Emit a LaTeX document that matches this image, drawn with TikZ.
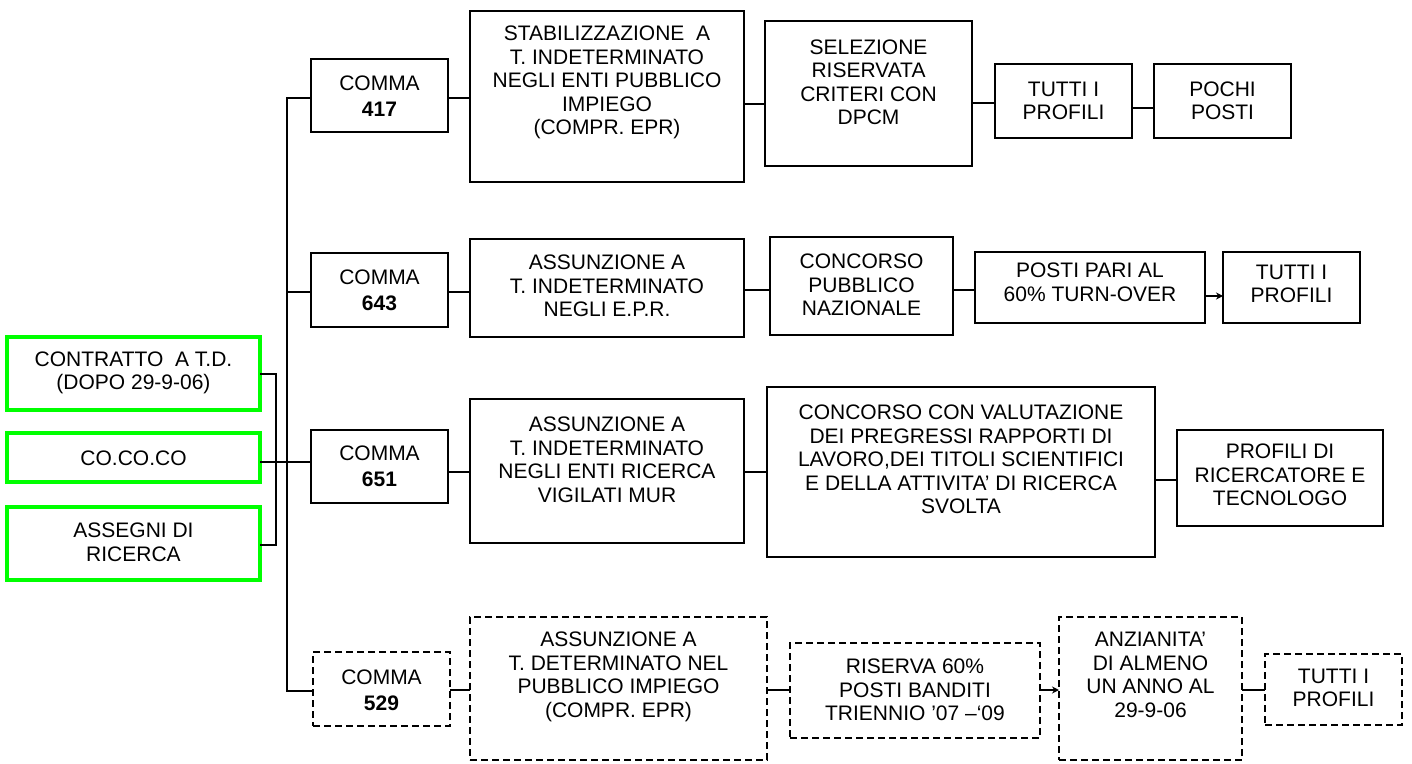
\documentclass[tikz,border=0pt]{standalone}
\usepackage{fontspec}
\setmainfont{Liberation Sans}
\usetikzlibrary{arrows.meta}
\definecolor{brgreen}{RGB}{0,255,0}
\tikzset{
 solidbox/.style={draw=black, line width=2pt, inner sep=0pt, outer sep=0pt},
 dashbox/.style={solidbox, dash pattern=on 7pt off 4pt},
 greenbox/.style={draw=brgreen, line width=4pt, inner sep=0pt, outer sep=0pt},
 txt/.style={align=center, inner sep=0pt, font=\fontsize{21}{23.5}\selectfont},
 conn/.style={draw=black, line width=2pt},
 arr/.style={conn, -{Stealth[length=7pt,width=7pt]}},
}
% style, name, x1, y1, x2, y2, text centre y, text
\newcommand\mybox[8]{%
 \node[#1, minimum width={#5-#3}, minimum height={#6-#4}, anchor=north west] (#2) at (#3,#4) {};
 \node[txt] (#2t) at ({(#3+#5)/2},#7) {#8};
}
\begin{document}
\begin{tikzpicture}[x=1pt,y=-1pt]
\useasboundingbox (0,0) rectangle (1412,763);
% left green boxes
\mybox{greenbox}{G1}{7}{337}{260}{410}{373}{CONTRATTO\ \ A T.D.\\(DOPO 29-9-06)}
\mybox{greenbox}{G2}{7}{433}{260}{482}{458}{CO.CO.CO}
\mybox{greenbox}{G3}{7}{507}{260}{580}{542.5}{ASSEGNI DI\\RICERCA}
% comma boxes
\mybox{solidbox}{C417}{311}{59}{448}{132}{96}{COMMA\\[2.5pt]\textbf{417}}
\mybox{solidbox}{C643}{311}{253}{448}{327}{290}{COMMA\\[2.5pt]\textbf{643}}
\mybox{solidbox}{C651}{311}{430}{448}{503}{466}{COMMA\\[2.5pt]\textbf{651}}
\mybox{dashbox}{C529}{313}{652}{450}{726}{690}{COMMA\\[2.5pt]\textbf{529}}
% row 1
\mybox{solidbox}{A1}{470}{11}{744}{182}{82.5}{STABILIZZAZIONE\ \ A\\T. INDETERMINATO\\NEGLI ENTI PUBBLICO\\IMPIEGO\\(COMPR. EPR)}
\mybox{solidbox}{B1}{765}{21}{972}{166}{82.5}{SELEZIONE\\RISERVATA\\CRITERI CON\\DPCM}
\mybox{solidbox}{T1}{995}{64}{1132}{138}{101}{TUTTI I\\PROFILI}
\mybox{solidbox}{P1}{1154}{64}{1291}{138}{101}{POCHI\\POSTI}
% row 2
\mybox{solidbox}{A2}{470}{239}{744}{337}{286}{ASSUNZIONE A\\T. INDETERMINATO\\NEGLI E.P.R.}
\mybox{solidbox}{B2}{770}{237}{953}{335}{285}{CONCORSO\\PUBBLICO\\NAZIONALE}
\mybox{solidbox}{D2}{975}{252}{1205}{323}{282.5}{POSTI PARI AL\\60\% TURN-OVER}
\mybox{solidbox}{T2}{1223}{252}{1360}{323}{284}{TUTTI I\\PROFILI}
% row 3
\mybox{solidbox}{A3}{470}{399}{744}{543}{460}{ASSUNZIONE A\\T. INDETERMINATO\\NEGLI ENTI RICERCA\\VIGILATI MUR}
\mybox{solidbox}{B3}{767}{387}{1155}{557}{459.5}{CONCORSO CON VALUTAZIONE\\DEI PREGRESSI RAPPORTI DI\\LAVORO,DEI TITOLI SCIENTIFICI\\E DELLA ATTIVITA’ DI RICERCA\\SVOLTA}
\mybox{solidbox}{P3}{1177}{430}{1383}{526}{475}{PROFILI DI\\RICERCATORE E\\TECNOLOGO}
% row 4
\mybox{dashbox}{A4}{470}{617}{767}{760}{677}{ASSUNZIONE A\\T. DETERMINATO NEL\\PUBBLICO IMPIEGO\\(COMPR. EPR)}
\mybox{dashbox}{R4}{790}{643}{1040}{738}{690}{RISERVA 60\%\\POSTI BANDITI\\TRIENNIO ’07 –‘09}
\mybox{dashbox}{N4}{1059}{617}{1242}{760}{675}{ANZIANITA’\\DI ALMENO\\UN ANNO AL\\29-9-06}
\mybox{dashbox}{T4}{1265}{654}{1402}{725}{688}{TUTTI I\\PROFILI}
% helper coordinates
\coordinate (sp) at (287,98);
\coordinate (spb) at (287,691);
\coordinate (bra) at (276,374);
\coordinate (brb) at (276,545);
\coordinate (r1a) at (0,98);
\coordinate (r1b) at (0,104);
\coordinate (r1c) at (0,103);
\coordinate (r1d) at (0,108);
\coordinate (r2a) at (0,292);
\coordinate (r2b) at (0,290);
\coordinate (r2c) at (0,296);
\coordinate (r3a) at (0,462);
\coordinate (r3b) at (0,472);
\coordinate (r3c) at (0,480);
\coordinate (r4a) at (0,690);
% spine and bracket
\draw[conn] (C417.west |- sp) -- (sp) -- (spb) -- (C529.west |- spb);
\draw[conn] (sp |- r2a) -- (C643.west |- r2a);
\draw[conn] (G1.east |- bra) -- (bra) -- (brb) -- (G3.east |- brb);
\draw[conn] (G2.east |- r3a) -- (C651.west |- r3a);
% row 1
\draw[conn] (C417.east |- r1a) -- (A1.west |- r1a);
\draw[conn] (A1.east |- r1b) -- (B1.west |- r1b);
\draw[conn] (B1.east |- r1c) -- (T1.west |- r1c);
\draw[conn] (T1.east |- r1d) -- (P1.west |- r1d);
% row 2
\draw[conn] (C643.east |- r2a) -- (A2.west |- r2a);
\draw[conn] (A2.east |- r2b) -- (B2.west |- r2b);
\draw[conn] (B2.east |- r2b) -- (D2.west |- r2b);
\draw[arr] (D2.east |- r2c) -- (T2.west |- r2c);
% row 3
\draw[conn] (C651.east |- r3b) -- (A3.west |- r3b);
\draw[conn] (A3.east |- r3b) -- (B3.west |- r3b);
\draw[conn] (B3.east |- r3c) -- (P3.west |- r3c);
% row 4
\draw[conn] (C529.east |- r4a) -- (A4.west |- r4a);
\draw[conn] (A4.east |- r4a) -- (R4.west |- r4a);
\draw[arr] (R4.east |- r4a) -- (N4.west |- r4a);
\draw[conn] (N4.east |- r4a) -- (T4.west |- r4a);
\end{tikzpicture}
\end{document}
